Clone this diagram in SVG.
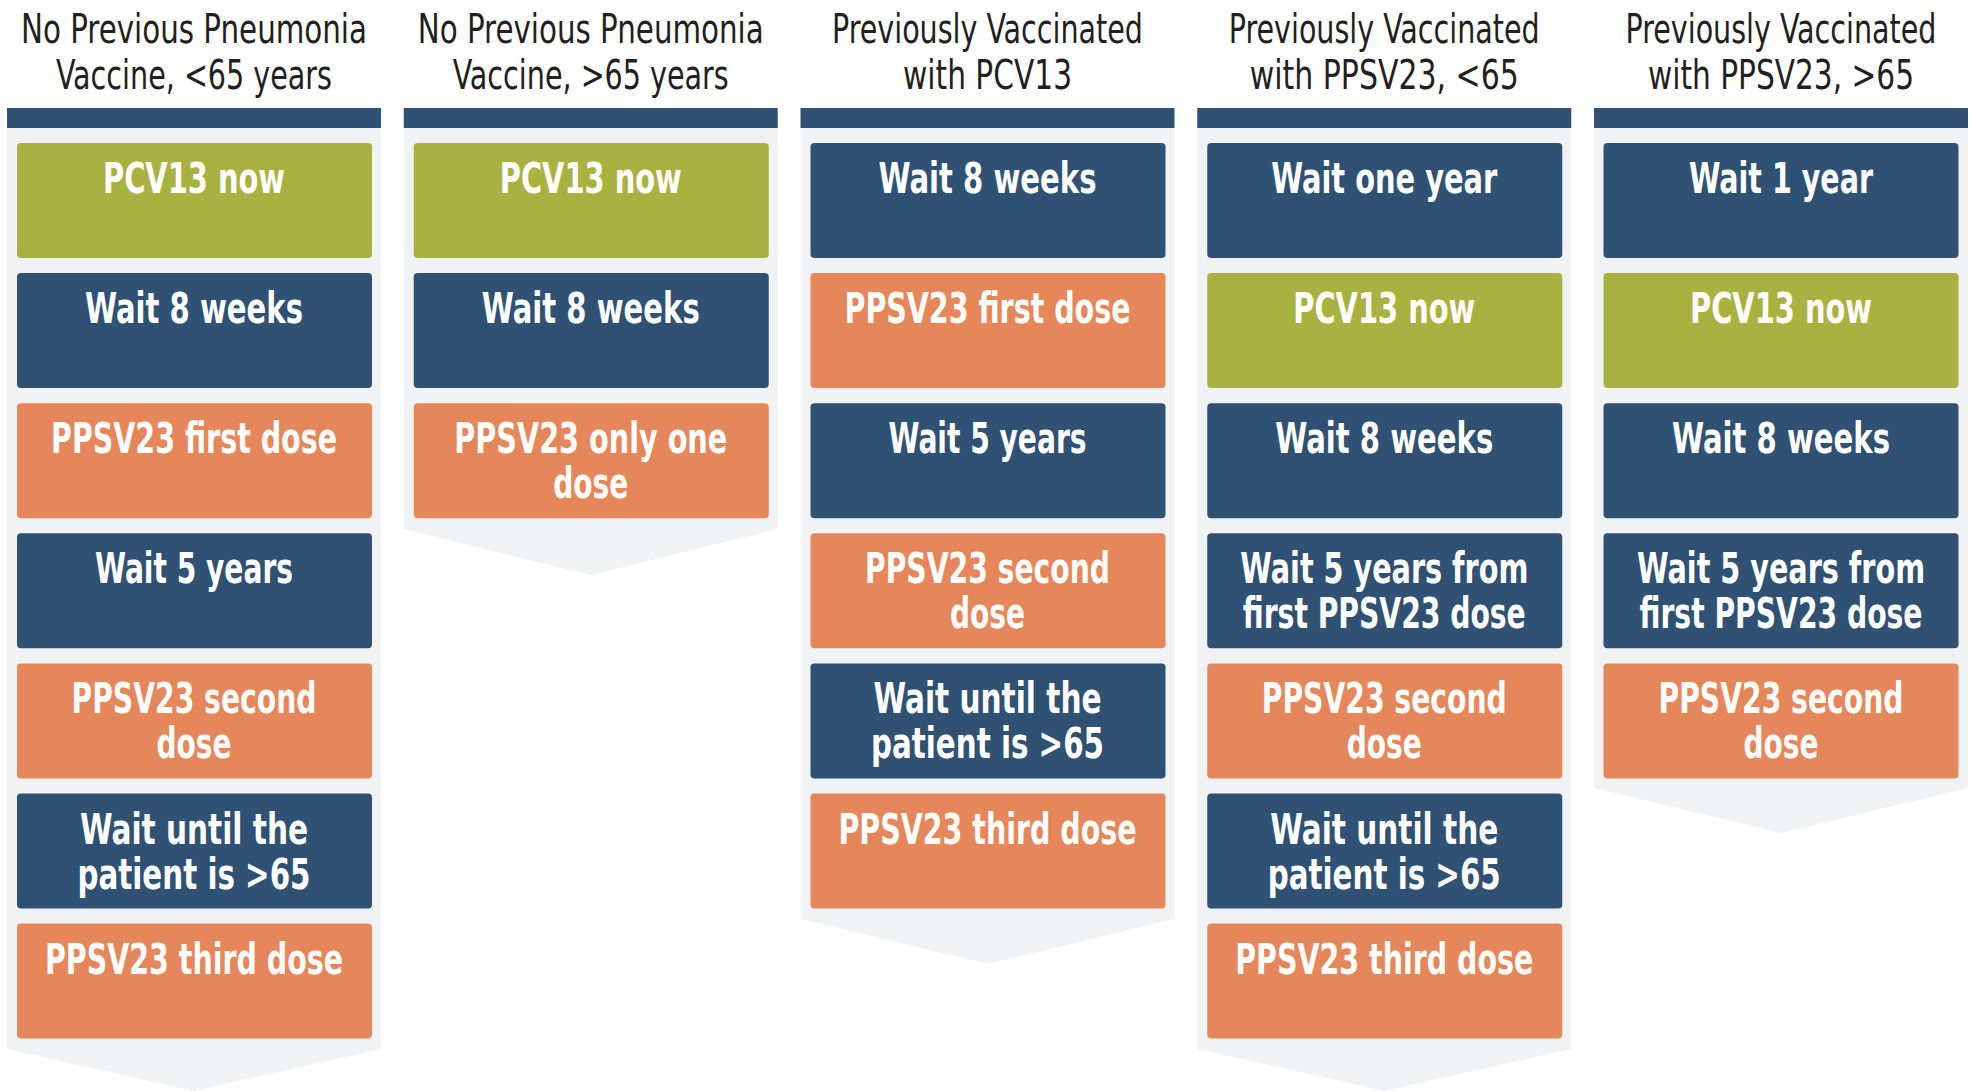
<svg xmlns="http://www.w3.org/2000/svg" width="1973" height="1091" viewBox="0 0 1973 1091">
<style>
.panel{fill:#F1F2F4}
.bar{fill:#2F5173}
.g{fill:#A9B240}
.b{fill:#2F5173}
.o{fill:#E5875A}
.h{font-family:"Liberation Sans Narrow","DejaVu Sans Condensed","Liberation Sans",sans-serif;font-size:40px;fill:#231F20;text-anchor:middle}
.t{font-family:"Liberation Sans Narrow","DejaVu Sans Condensed","Liberation Sans",sans-serif;font-size:43px;font-weight:bold;fill:#FFFFFF;text-anchor:middle}
</style>
<rect width="1973" height="1091" fill="#FFFFFF"/>

<!-- Column 1 -->
<g id="col1">
  <path class="panel" d="M7,128 H381 V1049 L194,1091 L7,1049 Z"/>
  <rect class="bar" x="7" y="108" width="374" height="20"/>
  <g id="col1-header">
    <text class="h" x="194" y="43" textLength="346" lengthAdjust="spacingAndGlyphs">No Previous Pneumonia</text>
    <text class="h" x="194" y="89" textLength="276" lengthAdjust="spacingAndGlyphs">Vaccine, &lt;65 years</text>
  </g>
  <g id="c1n1"><rect class="g" x="17" y="143" width="355" height="115" rx="4"/><text class="t" x="194" y="193" textLength="182" lengthAdjust="spacingAndGlyphs">PCV13 now</text></g>
  <g id="c1n2"><rect class="b" x="17" y="273.1" width="355" height="115" rx="4"/><text class="t" x="194" y="323.1" textLength="218" lengthAdjust="spacingAndGlyphs">Wait 8 weeks</text></g>
  <g id="c1n3"><rect class="o" x="17" y="403.2" width="355" height="115" rx="4"/><text class="t" x="194" y="453.2" textLength="286" lengthAdjust="spacingAndGlyphs">PPSV23 first dose</text></g>
  <g id="c1n4"><rect class="b" x="17" y="533.3" width="355" height="115" rx="4"/><text class="t" x="194" y="583.3" textLength="198" lengthAdjust="spacingAndGlyphs">Wait 5 years</text></g>
  <g id="c1n5"><rect class="o" x="17" y="663.4" width="355" height="115" rx="4"/><text class="t" x="194" y="713.4" textLength="245" lengthAdjust="spacingAndGlyphs">PPSV23 second</text><text class="t" x="194" y="758.4" textLength="75" lengthAdjust="spacingAndGlyphs">dose</text></g>
  <g id="c1n6"><rect class="b" x="17" y="793.5" width="355" height="115" rx="4"/><text class="t" x="194" y="843.5" textLength="228" lengthAdjust="spacingAndGlyphs">Wait until the</text><text class="t" x="194" y="888.5" textLength="233" lengthAdjust="spacingAndGlyphs">patient is &gt;65</text></g>
  <g id="c1n7"><rect class="o" x="17" y="923.6" width="355" height="115" rx="4"/><text class="t" x="194" y="973.6" textLength="298" lengthAdjust="spacingAndGlyphs">PPSV23 third dose</text></g>
</g>

<!-- Column 2 -->
<g id="col2">
  <path class="panel" d="M403.75,128 H777.75 V529 L590.75,575 L403.75,529 Z"/>
  <rect class="bar" x="403.75" y="108" width="374" height="20"/>
  <g id="col2-header">
    <text class="h" x="590.75" y="43" textLength="346" lengthAdjust="spacingAndGlyphs">No Previous Pneumonia</text>
    <text class="h" x="590.75" y="89" textLength="276" lengthAdjust="spacingAndGlyphs">Vaccine, &gt;65 years</text>
  </g>
  <g id="c2n1"><rect class="g" x="413.75" y="143" width="355" height="115" rx="4"/><text class="t" x="590.75" y="193" textLength="182" lengthAdjust="spacingAndGlyphs">PCV13 now</text></g>
  <g id="c2n2"><rect class="b" x="413.75" y="273.1" width="355" height="115" rx="4"/><text class="t" x="590.75" y="323.1" textLength="218" lengthAdjust="spacingAndGlyphs">Wait 8 weeks</text></g>
  <g id="c2n3"><rect class="o" x="413.75" y="403.2" width="355" height="115" rx="4"/><text class="t" x="590.75" y="453.2" textLength="273" lengthAdjust="spacingAndGlyphs">PPSV23 only one</text><text class="t" x="590.75" y="498.2" textLength="75" lengthAdjust="spacingAndGlyphs">dose</text></g>
</g>

<!-- Column 3 -->
<g id="col3">
  <path class="panel" d="M800.5,128 H1174.5 V919 L987.5,964 L800.5,919 Z"/>
  <rect class="bar" x="800.5" y="108" width="374" height="20"/>
  <g id="col3-header">
    <text class="h" x="987.5" y="43" textLength="311" lengthAdjust="spacingAndGlyphs">Previously Vaccinated</text>
    <text class="h" x="987.5" y="89" textLength="169" lengthAdjust="spacingAndGlyphs">with PCV13</text>
  </g>
  <g id="c3n1"><rect class="b" x="810.5" y="143" width="355" height="115" rx="4"/><text class="t" x="987.5" y="193" textLength="218" lengthAdjust="spacingAndGlyphs">Wait 8 weeks</text></g>
  <g id="c3n2"><rect class="o" x="810.5" y="273.1" width="355" height="115" rx="4"/><text class="t" x="987.5" y="323.1" textLength="286" lengthAdjust="spacingAndGlyphs">PPSV23 first dose</text></g>
  <g id="c3n3"><rect class="b" x="810.5" y="403.2" width="355" height="115" rx="4"/><text class="t" x="987.5" y="453.2" textLength="198" lengthAdjust="spacingAndGlyphs">Wait 5 years</text></g>
  <g id="c3n4"><rect class="o" x="810.5" y="533.3" width="355" height="115" rx="4"/><text class="t" x="987.5" y="583.3" textLength="245" lengthAdjust="spacingAndGlyphs">PPSV23 second</text><text class="t" x="987.5" y="628.3" textLength="75" lengthAdjust="spacingAndGlyphs">dose</text></g>
  <g id="c3n5"><rect class="b" x="810.5" y="663.4" width="355" height="115" rx="4"/><text class="t" x="987.5" y="713.4" textLength="228" lengthAdjust="spacingAndGlyphs">Wait until the</text><text class="t" x="987.5" y="758.4" textLength="233" lengthAdjust="spacingAndGlyphs">patient is &gt;65</text></g>
  <g id="c3n6"><rect class="o" x="810.5" y="793.5" width="355" height="115" rx="4"/><text class="t" x="987.5" y="843.5" textLength="298" lengthAdjust="spacingAndGlyphs">PPSV23 third dose</text></g>
</g>

<!-- Column 4 -->
<g id="col4">
  <path class="panel" d="M1197.25,128 H1571.25 V1049 L1384.25,1091 L1197.25,1049 Z"/>
  <rect class="bar" x="1197.25" y="108" width="374" height="20"/>
  <g id="col4-header">
    <text class="h" x="1384.25" y="43" textLength="311" lengthAdjust="spacingAndGlyphs">Previously Vaccinated</text>
    <text class="h" x="1384.25" y="89" textLength="269" lengthAdjust="spacingAndGlyphs">with PPSV23, &lt;65</text>
  </g>
  <g id="c4n1"><rect class="b" x="1207.25" y="143" width="355" height="115" rx="4"/><text class="t" x="1384.25" y="193" textLength="226" lengthAdjust="spacingAndGlyphs">Wait one year</text></g>
  <g id="c4n2"><rect class="g" x="1207.25" y="273.1" width="355" height="115" rx="4"/><text class="t" x="1384.25" y="323.1" textLength="182" lengthAdjust="spacingAndGlyphs">PCV13 now</text></g>
  <g id="c4n3"><rect class="b" x="1207.25" y="403.2" width="355" height="115" rx="4"/><text class="t" x="1384.25" y="453.2" textLength="218" lengthAdjust="spacingAndGlyphs">Wait 8 weeks</text></g>
  <g id="c4n4"><rect class="b" x="1207.25" y="533.3" width="355" height="115" rx="4"/><text class="t" x="1384.25" y="583.3" textLength="288" lengthAdjust="spacingAndGlyphs">Wait 5 years from</text><text class="t" x="1384.25" y="628.3" textLength="283" lengthAdjust="spacingAndGlyphs">first PPSV23 dose</text></g>
  <g id="c4n5"><rect class="o" x="1207.25" y="663.4" width="355" height="115" rx="4"/><text class="t" x="1384.25" y="713.4" textLength="245" lengthAdjust="spacingAndGlyphs">PPSV23 second</text><text class="t" x="1384.25" y="758.4" textLength="75" lengthAdjust="spacingAndGlyphs">dose</text></g>
  <g id="c4n6"><rect class="b" x="1207.25" y="793.5" width="355" height="115" rx="4"/><text class="t" x="1384.25" y="843.5" textLength="228" lengthAdjust="spacingAndGlyphs">Wait until the</text><text class="t" x="1384.25" y="888.5" textLength="233" lengthAdjust="spacingAndGlyphs">patient is &gt;65</text></g>
  <g id="c4n7"><rect class="o" x="1207.25" y="923.6" width="355" height="115" rx="4"/><text class="t" x="1384.25" y="973.6" textLength="298" lengthAdjust="spacingAndGlyphs">PPSV23 third dose</text></g>
</g>

<!-- Column 5 -->
<g id="col5">
  <path class="panel" d="M1594,128 H1968 V788 L1781,833 L1594,788 Z"/>
  <rect class="bar" x="1594" y="108" width="374" height="20"/>
  <g id="col5-header">
    <text class="h" x="1781" y="43" textLength="311" lengthAdjust="spacingAndGlyphs">Previously Vaccinated</text>
    <text class="h" x="1781" y="89" textLength="266" lengthAdjust="spacingAndGlyphs">with PPSV23, &gt;65</text>
  </g>
  <g id="c5n1"><rect class="b" x="1603.5" y="143" width="355" height="115" rx="4"/><text class="t" x="1781" y="193" textLength="184" lengthAdjust="spacingAndGlyphs">Wait 1 year</text></g>
  <g id="c5n2"><rect class="g" x="1603.5" y="273.1" width="355" height="115" rx="4"/><text class="t" x="1781" y="323.1" textLength="182" lengthAdjust="spacingAndGlyphs">PCV13 now</text></g>
  <g id="c5n3"><rect class="b" x="1603.5" y="403.2" width="355" height="115" rx="4"/><text class="t" x="1781" y="453.2" textLength="218" lengthAdjust="spacingAndGlyphs">Wait 8 weeks</text></g>
  <g id="c5n4"><rect class="b" x="1603.5" y="533.3" width="355" height="115" rx="4"/><text class="t" x="1781" y="583.3" textLength="288" lengthAdjust="spacingAndGlyphs">Wait 5 years from</text><text class="t" x="1781" y="628.3" textLength="283" lengthAdjust="spacingAndGlyphs">first PPSV23 dose</text></g>
  <g id="c5n5"><rect class="o" x="1603.5" y="663.4" width="355" height="115" rx="4"/><text class="t" x="1781" y="713.4" textLength="245" lengthAdjust="spacingAndGlyphs">PPSV23 second</text><text class="t" x="1781" y="758.4" textLength="75" lengthAdjust="spacingAndGlyphs">dose</text></g>
</g>
</svg>
